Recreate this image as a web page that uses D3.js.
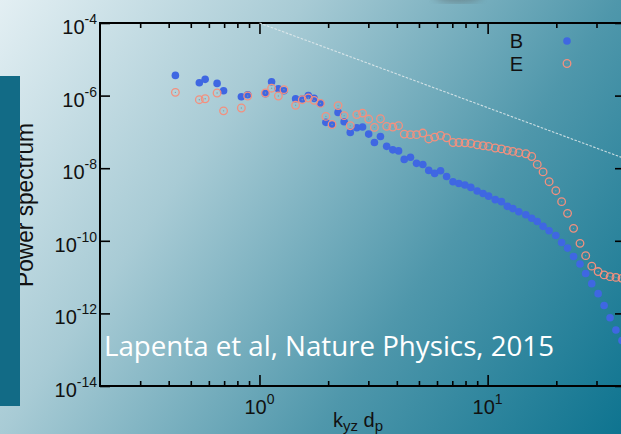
<!DOCTYPE html>
<html>
<head>
<meta charset="utf-8">
<script src="https://cdn.jsdelivr.net/npm/d3@7"></script>
<style>
  html, body { margin: 0; padding: 0; overflow: hidden; }
  svg { display: block; }
  .axis path { display: none; }
  .axis line { stroke: #000; stroke-width: 1.6; }
</style>
</head>
<body>
<div id="chart"></div>
<script>
// wavenumber k_yz d_p (shared by both series)
const kValues = [0.428, 0.545, 0.578, 0.652, 0.696, 0.833, 0.888, 1.062, 1.13, 1.21,
  1.28, 1.44, 1.54, 1.637, 1.735, 1.85, 1.955, 2.08, 2.21, 2.35,
  2.50, 2.67, 2.83, 3.01, 3.19, 3.39, 3.61, 3.84, 4.07, 4.31,
  4.59, 4.88, 5.20, 5.52, 5.86, 6.22, 6.61, 7.05, 7.48, 7.95,
  8.44, 9.0, 9.55, 10.1, 10.8, 11.5, 12.2, 12.9, 13.7, 14.7,
  15.6, 16.5, 17.5, 18.6, 19.9, 21.1, 22.4, 23.8, 25.4, 26.9,
  28.6, 30.5, 32.4, 34.4, 36.5, 38.8];

// magnetic field spectrum
const bValues = [3.6e-6, 2.26e-6, 2.8e-6, 2.17e-6, 1.36e-6, 9.3e-7, 1.06e-6, 1.13e-6, 2.4e-6, 1.55e-6,
  1.36e-6, 8.2e-7, 8.05e-7, 1.01e-6, 8.4e-7, 6.1e-7, 1.83e-7, 1.58e-7, 3.45e-7, 1.9e-7,
  9.7e-8, 1.3e-7, 1.36e-7, 8.7e-8, 5.1e-8, 7.5e-8, 4.0e-8, 3.2e-8, 3.0e-8, 1.75e-8,
  2.0e-8, 1.36e-8, 1.27e-8, 8.7e-9, 7.2e-9, 8.5e-9, 5.9e-9, 4.25e-9, 3.8e-9, 3.45e-9,
  2.96e-9, 2.35e-9, 2.0e-9, 1.7e-9, 1.36e-9, 1.2e-9, 8.9e-10, 7.7e-10, 6.3e-10, 5.2e-10,
  4.2e-10, 3.4e-10, 2.5e-10, 1.9e-10, 1.4e-10, 9.0e-11, 6.3e-11, 3.7e-11, 2.3e-11, 1.26e-11,
  6.6e-12, 3.5e-12, 1.65e-12, 7.6e-13, 3.5e-13, 1.8e-13];

// electric field spectrum
const eValues = [1.23e-6, 7.7e-7, 8.2e-7, 1.18e-6, 3.8e-7, 4.55e-7, 9.75e-7, 1.18e-6, 1.6e-6, 9.75e-7,
  1.46e-6, 5.4e-7, 7.7e-7, 8.6e-7, 7.4e-7, 6.1e-7, 2.67e-7, 1.6e-7, 5.3e-7, 2.8e-7,
  1.48e-7, 3.0e-7, 3.3e-7, 2.26e-7, 1.33e-7, 2.3e-7, 1.42e-7, 1.36e-7, 1.48e-7, 8.7e-8,
  8.4e-8, 8.4e-8, 9.3e-8, 6.4e-8, 7.2e-8, 8.0e-8, 6.9e-8, 5.1e-8, 5.1e-8, 5.0e-8,
  4.8e-8, 4.4e-8, 4.17e-8, 4.0e-8, 3.6e-8, 3.4e-8, 3.1e-8, 2.9e-8, 2.67e-8, 2.5e-8,
  2.1e-8, 1.27e-8, 7.9e-9, 4.25e-9, 2.4e-9, 1.2e-9, 5.7e-10, 2.2e-10, 8.5e-11, 3.9e-11,
  2.0e-11, 1.42e-11, 1.15e-11, 1.03e-11, 9.8e-12, 9.3e-12];

// reference power law (dashed), end points
const refK = [1, 40];
const refP = [1e-4, 1.83e-8];

// tick values and labels
const xMajorTicks = [1, 10];
const xMajorExp = ['0', '1'];
const xMinorTicks = [0.3, 0.4, 0.5, 0.6, 0.7, 0.8, 0.9, 2, 3, 4, 5, 6, 7, 8, 9, 20, 30];
const yTicks = [1e-4, 1e-6, 1e-8, 1e-10, 1e-12, 1e-14];
const yTickExp = ['-4', '-6', '-8', '-10', '-12', '-14'];

const legendNames = ['B', 'E'];

const W = 621, H = 434;
const plot = {left: 100, top: 23, right: 625, bottom: 386};

const svg = d3.select('#chart').append('svg')
  .attr('width', W)
  .attr('height', H);

// Slide background
const defs = svg.append('defs');
const grad = defs.append('linearGradient')
  .attr('id', 'bg')
  .attr('gradientUnits', 'userSpaceOnUse')
  .attr('x1', 0).attr('y1', 0).attr('x2', W).attr('y2', H);
grad.append('stop').attr('offset', 0).attr('stop-color', '#e3eff3');
grad.append('stop').attr('offset', 0.33).attr('stop-color', '#a8cbd5');
grad.append('stop').attr('offset', 0.67).attr('stop-color', '#4f97ab');
grad.append('stop').attr('offset', 1).attr('stop-color', '#0e7490');
defs.append('filter').attr('id', 'blur')
  .append('feGaussianBlur').attr('stdDeviation', 4);

svg.append('rect').attr('width', W).attr('height', H).attr('fill', 'url(#bg)');
svg.append('ellipse')
  .attr('cx', 458).attr('cy', -6).attr('rx', 24).attr('ry', 8)
  .attr('fill', '#555').attr('opacity', 0.45).attr('filter', 'url(#blur)');

const x = d3.scaleLog().domain([0.2, 40]).range([plot.left, plot.right]);
const y = d3.scaleLog().domain([1e-14, 1e-4]).range([plot.bottom, plot.top]);

// Ticks (bottom / top / left / right)
svg.append('g').attr('class', 'axis')
  .attr('transform', 'translate(0,' + plot.bottom + ')')
  .call(d3.axisTop(x).tickValues(xMajorTicks).tickSize(11).tickFormat(''));
svg.append('g').attr('class', 'axis')
  .attr('transform', 'translate(0,' + plot.bottom + ')')
  .call(d3.axisTop(x).tickValues(xMinorTicks).tickSize(5).tickFormat(''));
svg.append('g').attr('class', 'axis')
  .attr('transform', 'translate(0,' + plot.top + ')')
  .call(d3.axisBottom(x).tickValues(xMajorTicks).tickSize(11).tickFormat(''));
svg.append('g').attr('class', 'axis')
  .attr('transform', 'translate(0,' + plot.top + ')')
  .call(d3.axisBottom(x).tickValues(xMinorTicks).tickSize(5).tickFormat(''));
svg.append('g').attr('class', 'axis')
  .attr('transform', 'translate(' + plot.left + ',0)')
  .call(d3.axisRight(y).tickValues(yTicks).tickSize(10).tickFormat(''));
svg.append('g').attr('class', 'axis')
  .attr('transform', 'translate(' + plot.right + ',0)')
  .call(d3.axisLeft(y).tickValues(yTicks).tickSize(10).tickFormat(''));

// Frame
svg.append('rect')
  .attr('x', plot.left).attr('y', plot.top)
  .attr('width', plot.right - plot.left).attr('height', plot.bottom - plot.top)
  .attr('fill', 'none').attr('stroke', '#000').attr('stroke-width', 2);

// Tick labels
const labelFont = '"Liberation Sans", Arial, sans-serif';
yTicks.forEach((v, i) => {
  const t = svg.append('text')
    .attr('x', plot.left - 3).attr('y', y(v) + 11)
    .attr('text-anchor', 'end')
    .attr('font-family', labelFont).attr('font-size', 20).attr('fill', '#111');
  t.append('tspan').text('10');
  t.append('tspan').attr('dy', -10).attr('font-size', 14).text(yTickExp[i]);
});
xMajorTicks.forEach((v, i) => {
  const t = svg.append('text')
    .attr('x', x(v)).attr('y', plot.bottom + 28)
    .attr('text-anchor', 'middle')
    .attr('font-family', labelFont).attr('font-size', 20).attr('fill', '#111');
  t.append('tspan').text('10');
  t.append('tspan').attr('dy', -10).attr('font-size', 14).text(xMajorExp[i]);
});

// Axis titles
const xt = svg.append('text')
  .attr('x', 333).attr('y', 427)
  .attr('font-family', labelFont).attr('font-size', 20).attr('fill', '#111');
xt.append('tspan').text('k');
xt.append('tspan').attr('dy', 4).attr('font-size', 15).text('yz');
xt.append('tspan').attr('dy', -4).text(' d');
xt.append('tspan').attr('dy', 4).attr('font-size', 15).text('p');

svg.append('text')
  .attr('transform', 'translate(33,205) rotate(-90)')
  .attr('text-anchor', 'middle')
  .attr('font-family', labelFont).attr('font-size', 23).attr('fill', '#111')
  .attr('textLength', 164).attr('lengthAdjust', 'spacingAndGlyphs')
  .text('Power spectrum');

// slide side bar covering part of the title
svg.append('rect')
  .attr('x', 0).attr('y', 76).attr('width', 20).attr('height', 330)
  .attr('fill', '#126b86');

// Reference power law
svg.append('line')
  .attr('x1', x(refK[0])).attr('y1', y(refP[0]))
  .attr('x2', x(refK[1])).attr('y2', y(refP[1]))
  .attr('stroke', '#e4ecee').attr('stroke-width', 1.1)
  .attr('stroke-dasharray', '2.5,1.5').attr('opacity', 0.85);

// Data
const bData = kValues.map((k, i) => ({k: k, p: bValues[i]}));
const eData = kValues.map((k, i) => ({k: k, p: eValues[i]}));

svg.append('g').selectAll('circle')
  .data(bData)
  .enter().append('circle')
  .attr('cx', d => x(d.k)).attr('cy', d => y(d.p))
  .attr('r', 3.8).attr('fill', '#3f67e2');

const eG = svg.append('g').selectAll('g')
  .data(eData)
  .enter().append('g')
  .attr('transform', d => 'translate(' + x(d.k) + ',' + y(d.p) + ')');
eG.append('circle').attr('r', 3.8)
  .attr('fill', 'none').attr('stroke', '#f4907e').attr('stroke-width', 1.3);
eG.append('circle').attr('r', 0.7).attr('fill', '#8a9a9c');

// Legend
const legendY = [48, 71];
legendNames.forEach((n, i) => {
  svg.append('text')
    .attr('x', 523).attr('y', legendY[i])
    .attr('text-anchor', 'end')
    .attr('font-family', labelFont).attr('font-size', 20).attr('fill', '#111')
    .text(n);
});
svg.append('circle').attr('cx', 567).attr('cy', 41).attr('r', 3.8).attr('fill', '#3f67e2');
svg.append('circle').attr('cx', 567).attr('cy', 63.5).attr('r', 3.8)
  .attr('fill', 'none').attr('stroke', '#f4907e').attr('stroke-width', 1.3);
svg.append('circle').attr('cx', 567).attr('cy', 63.5).attr('r', 0.7).attr('fill', '#8a9a9c');

// Citation
svg.append('text')
  .attr('x', 104).attr('y', 356)
  .attr('font-family', '"Open Sans", Lato, sans-serif').attr('font-size', 28)
  .attr('fill', '#fff')
  .attr('textLength', 450).attr('lengthAdjust', 'spacingAndGlyphs')
  .text('Lapenta et al, Nature Physics, 2015');
</script>
</body>
</html>
